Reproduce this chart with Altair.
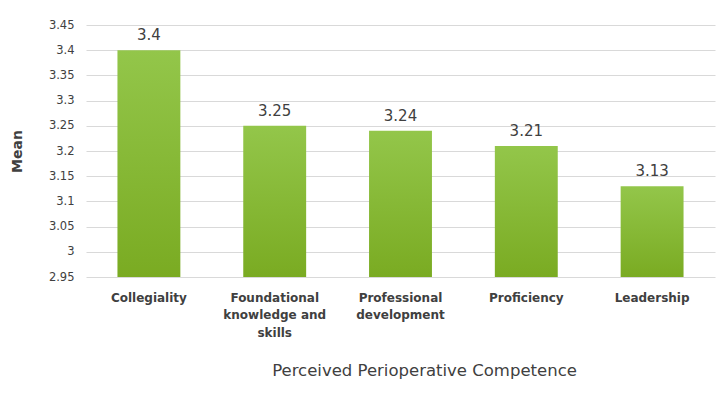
import altair as alt
import pandas as pd

categories = ["Collegiality", "Foundational|knowledge and|skills", "Professional|development", "Proficiency", "Leadership"]
means = [3.4, 3.25, 3.24, 3.21, 3.13]
labels = ["3.4", "3.25", "3.24", "3.21", "3.13"]
y_ticks = [2.95, 3.0, 3.05, 3.1, 3.15, 3.2, 3.25, 3.3, 3.35, 3.4, 3.45]

df = pd.DataFrame({"cat": categories, "mean": means, "label": labels, "base": [2.95] * 5})

FONT = "DejaVu Sans"
TXT = "#404040"

x = alt.X("cat:N", sort=categories, title="Perceived Perioperative Competence",
          scale=alt.Scale(paddingInner=0.5, paddingOuter=0.25),
          axis=alt.Axis(labelAngle=0, labelExpr="split(datum.label, '|')", ticks=False, domain=False,
                        labelFont=FONT, labelFontSize=12, labelFontWeight="bold", labelColor=TXT,
                        labelPadding=15, labelBaseline="top", labelLineHeight=17.5,
                        labelOverlap=False, labelLimit=200,
                        titleFont=FONT, titleFontSize=16.5, titleFontWeight="normal", titleColor=TXT,
                        titlePadding=24, titleX=338))

y = alt.Y("mean:Q", title="Mean",
          scale=alt.Scale(domain=[2.95, 3.45], zero=False, nice=False),
          axis=alt.Axis(values=y_ticks, format=".2~f", ticks=False, domain=False,
                        labelFont=FONT, labelFontSize=11.5, labelColor=TXT, labelPadding=12,
                        labelOverlap=False,
                        gridColor="#d9d9d9", gridWidth=1,
                        titleFont=FONT, titleFontSize=14, titleFontWeight="bold", titleColor=TXT,
                        titlePadding=24))

grad = alt.Gradient(gradient="linear", x1=0, x2=0, y1=0, y2=1,
                    stops=[alt.GradientStop(color="#93c64a", offset=0),
                           alt.GradientStop(color="#7aab22", offset=1)])

base = alt.Chart(df)
bars = base.mark_bar(color=grad).encode(x=x, y=y, y2=alt.Y2("base:Q"))
text = base.mark_text(dy=-15, font=FONT, fontSize=15, color=TXT).encode(
    x=x, y=y, text="label:N")

chart = (bars + text).properties(
    width=629, height=252,
    autosize=alt.AutoSizeParams(type="none"),
    padding={"left": 78, "top": 17, "right": 4, "bottom": 110},
    background="white",
).configure_view(stroke=None)

chart.save("out.html", embed_options={"renderer": "svg", "actions": False})
